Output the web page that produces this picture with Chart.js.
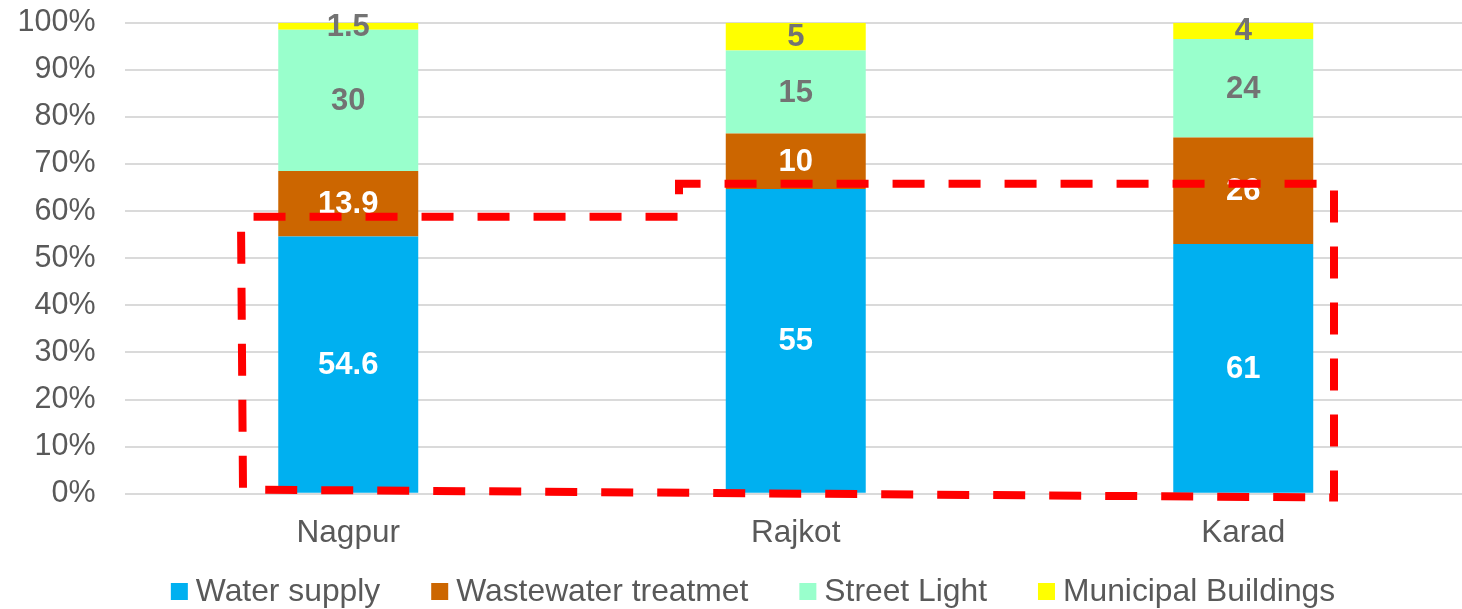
<!DOCTYPE html>
<html>
<head>
<meta charset="utf-8">
<script src="https://cdn.jsdelivr.net/npm/chart.js@4.4.1/dist/chart.umd.min.js"></script>
<style>
  html, body { margin: 0; padding: 0; background: #ffffff; overflow: hidden; }
  #wrap { width: 1462px; height: 609px; overflow: hidden; }
  canvas { display: block; }
</style>
</head>
<body>
<div id="wrap"><canvas id="chart" width="1470" height="609"></canvas></div>
<script>
// Energy use by sector for each city (raw values, shown as labels)
const categories = ['Nagpur', 'Rajkot', 'Karad'];
const waterSupply = [54.6, 55, 61];
const wastewaterTreatment = [13.9, 10, 26];
const streetLight = [30, 15, 24];
const municipalBuildings = [1.5, 5, 4];
const seriesNames = ['Water supply', 'Wastewater treatmet', 'Street Light', 'Municipal Buildings'];
const yTickValues = [0, 10, 20, 30, 40, 50, 60, 70, 80, 90, 100];

// Dashed highlight outline, in axis units: [category position, percent]
const highlightOutline = [
  [-0.2397, 58.8], [-0.2352, 0.9], [2.2028, -0.8],
  [2.2028, 65.8], [0.7391, 65.8], [0.7391, 58.8]
];

const FONT = "'Liberation Sans', Arial, sans-serif";
const seriesColors = ['#00B0F0', '#CC6600', '#99FFCC', '#FFFF00'];
const labelColors = ['#FFFFFF', '#FFFFFF', '#737373', '#737373'];

const rawSeries = [waterSupply, wastewaterTreatment, streetLight, municipalBuildings];
const totals = categories.map((_, i) => rawSeries.reduce((s, arr) => s + arr[i], 0));
const toShare = arr => arr.map((v, i) => v / totals[i] * 100);

const datasets = rawSeries.map((arr, k) => ({
  label: seriesNames[k],
  data: toShare(arr),
  rawValues: arr,
  backgroundColor: seriesColors[k],
  borderWidth: 0,
  categoryPercentage: 1,
  barPercentage: 0.3128
}));

// Value labels centred in each stacked segment
const segmentLabels = {
  id: 'segmentLabels',
  afterDatasetsDraw(chart) {
    const ctx = chart.ctx;
    ctx.save();
    ctx.font = 'bold 31px ' + FONT;
    ctx.textAlign = 'center';
    ctx.textBaseline = 'middle';
    chart.data.datasets.forEach((ds, k) => {
      chart.getDatasetMeta(k).data.forEach((bar, i) => {
        ctx.fillStyle = labelColors[k];
        ctx.fillText(String(ds.rawValues[i]), bar.x, (bar.y + bar.base) / 2 + 1);
      });
    });
    ctx.restore();
  }
};

// Red dashed outline drawn over the bars
const outlinePlugin = {
  id: 'outline',
  afterDraw(chart) {
    const { ctx, scales: { x, y } } = chart;
    ctx.save();
    ctx.strokeStyle = '#FF0000';
    ctx.lineWidth = 8;
    ctx.lineCap = 'butt';
    ctx.lineJoin = 'miter';
    ctx.setLineDash([32, 24]);
    ctx.lineDashOffset = 41;
    ctx.beginPath();
    highlightOutline.forEach(([cx, cy], n) => {
      const px = x.getPixelForValue(cx), py = y.getPixelForValue(cy);
      if (n === 0) ctx.moveTo(px, py); else ctx.lineTo(px, py);
    });
    ctx.closePath();
    ctx.stroke();
    ctx.restore();
  }
};

// Legend row beneath the axis
const legendRow = {
  id: 'legendRow',
  afterDraw(chart) {
    const ctx = chart.ctx;
    const box = 17, gap = 8, spacing = 51, centerX = 753, midY = 591.5;
    ctx.save();
    ctx.font = '31.8px ' + FONT;
    ctx.textBaseline = 'middle';
    ctx.textAlign = 'left';
    const items = chart.data.datasets.map(ds => ({
      text: ds.label, color: ds.backgroundColor, w: ctx.measureText(ds.label).width
    }));
    const total = items.reduce((s, it) => s + box + gap + it.w, 0) + spacing * (items.length - 1);
    let xPos = centerX - total / 2;
    items.forEach(it => {
      ctx.fillStyle = it.color;
      ctx.fillRect(xPos, midY - box / 2, box, box);
      ctx.fillStyle = '#595959';
      ctx.fillText(it.text, xPos + box + gap, midY + 0.5);
      xPos += box + gap + it.w + spacing;
    });
    ctx.restore();
  }
};

const noEdgePadding = scale => {
  scale.paddingTop = 0;
  scale.paddingBottom = 0;
  scale.paddingLeft = 0;
  scale.paddingRight = 0;
};

new Chart(document.getElementById('chart'), {
  type: 'bar',
  data: { labels: categories, datasets },
  options: {
    responsive: false,
    animation: false,
    events: [],
    layout: { padding: { top: 22.7, right: 3, bottom: 0, left: 0 } },
    plugins: { legend: { display: false }, tooltip: { enabled: false } },
    scales: {
      x: {
        stacked: true,
        grid: { display: false, drawTicks: false },
        border: { display: false },
        ticks: { color: '#595959', font: { family: FONT, size: 31.5 }, padding: 21 },
        afterFit(scale) { scale.height = 115.2; noEdgePadding(scale); }
      },
      y: {
        stacked: true,
        min: 0,
        max: 100,
        afterBuildTicks(scale) { scale.ticks = yTickValues.map(v => ({ value: v })); },
        grid: { color: '#dadada', lineWidth: 2, drawTicks: false },
        border: { display: false },
        ticks: {
          color: '#595959',
          font: { family: FONT, size: 30.5 },
          padding: 29,
          callback: v => v + '%'
        },
        afterFit(scale) { scale.width = 124.5; noEdgePadding(scale); }
      }
    }
  },
  plugins: [segmentLabels, outlinePlugin, legendRow]
});
</script>
</body>
</html>
